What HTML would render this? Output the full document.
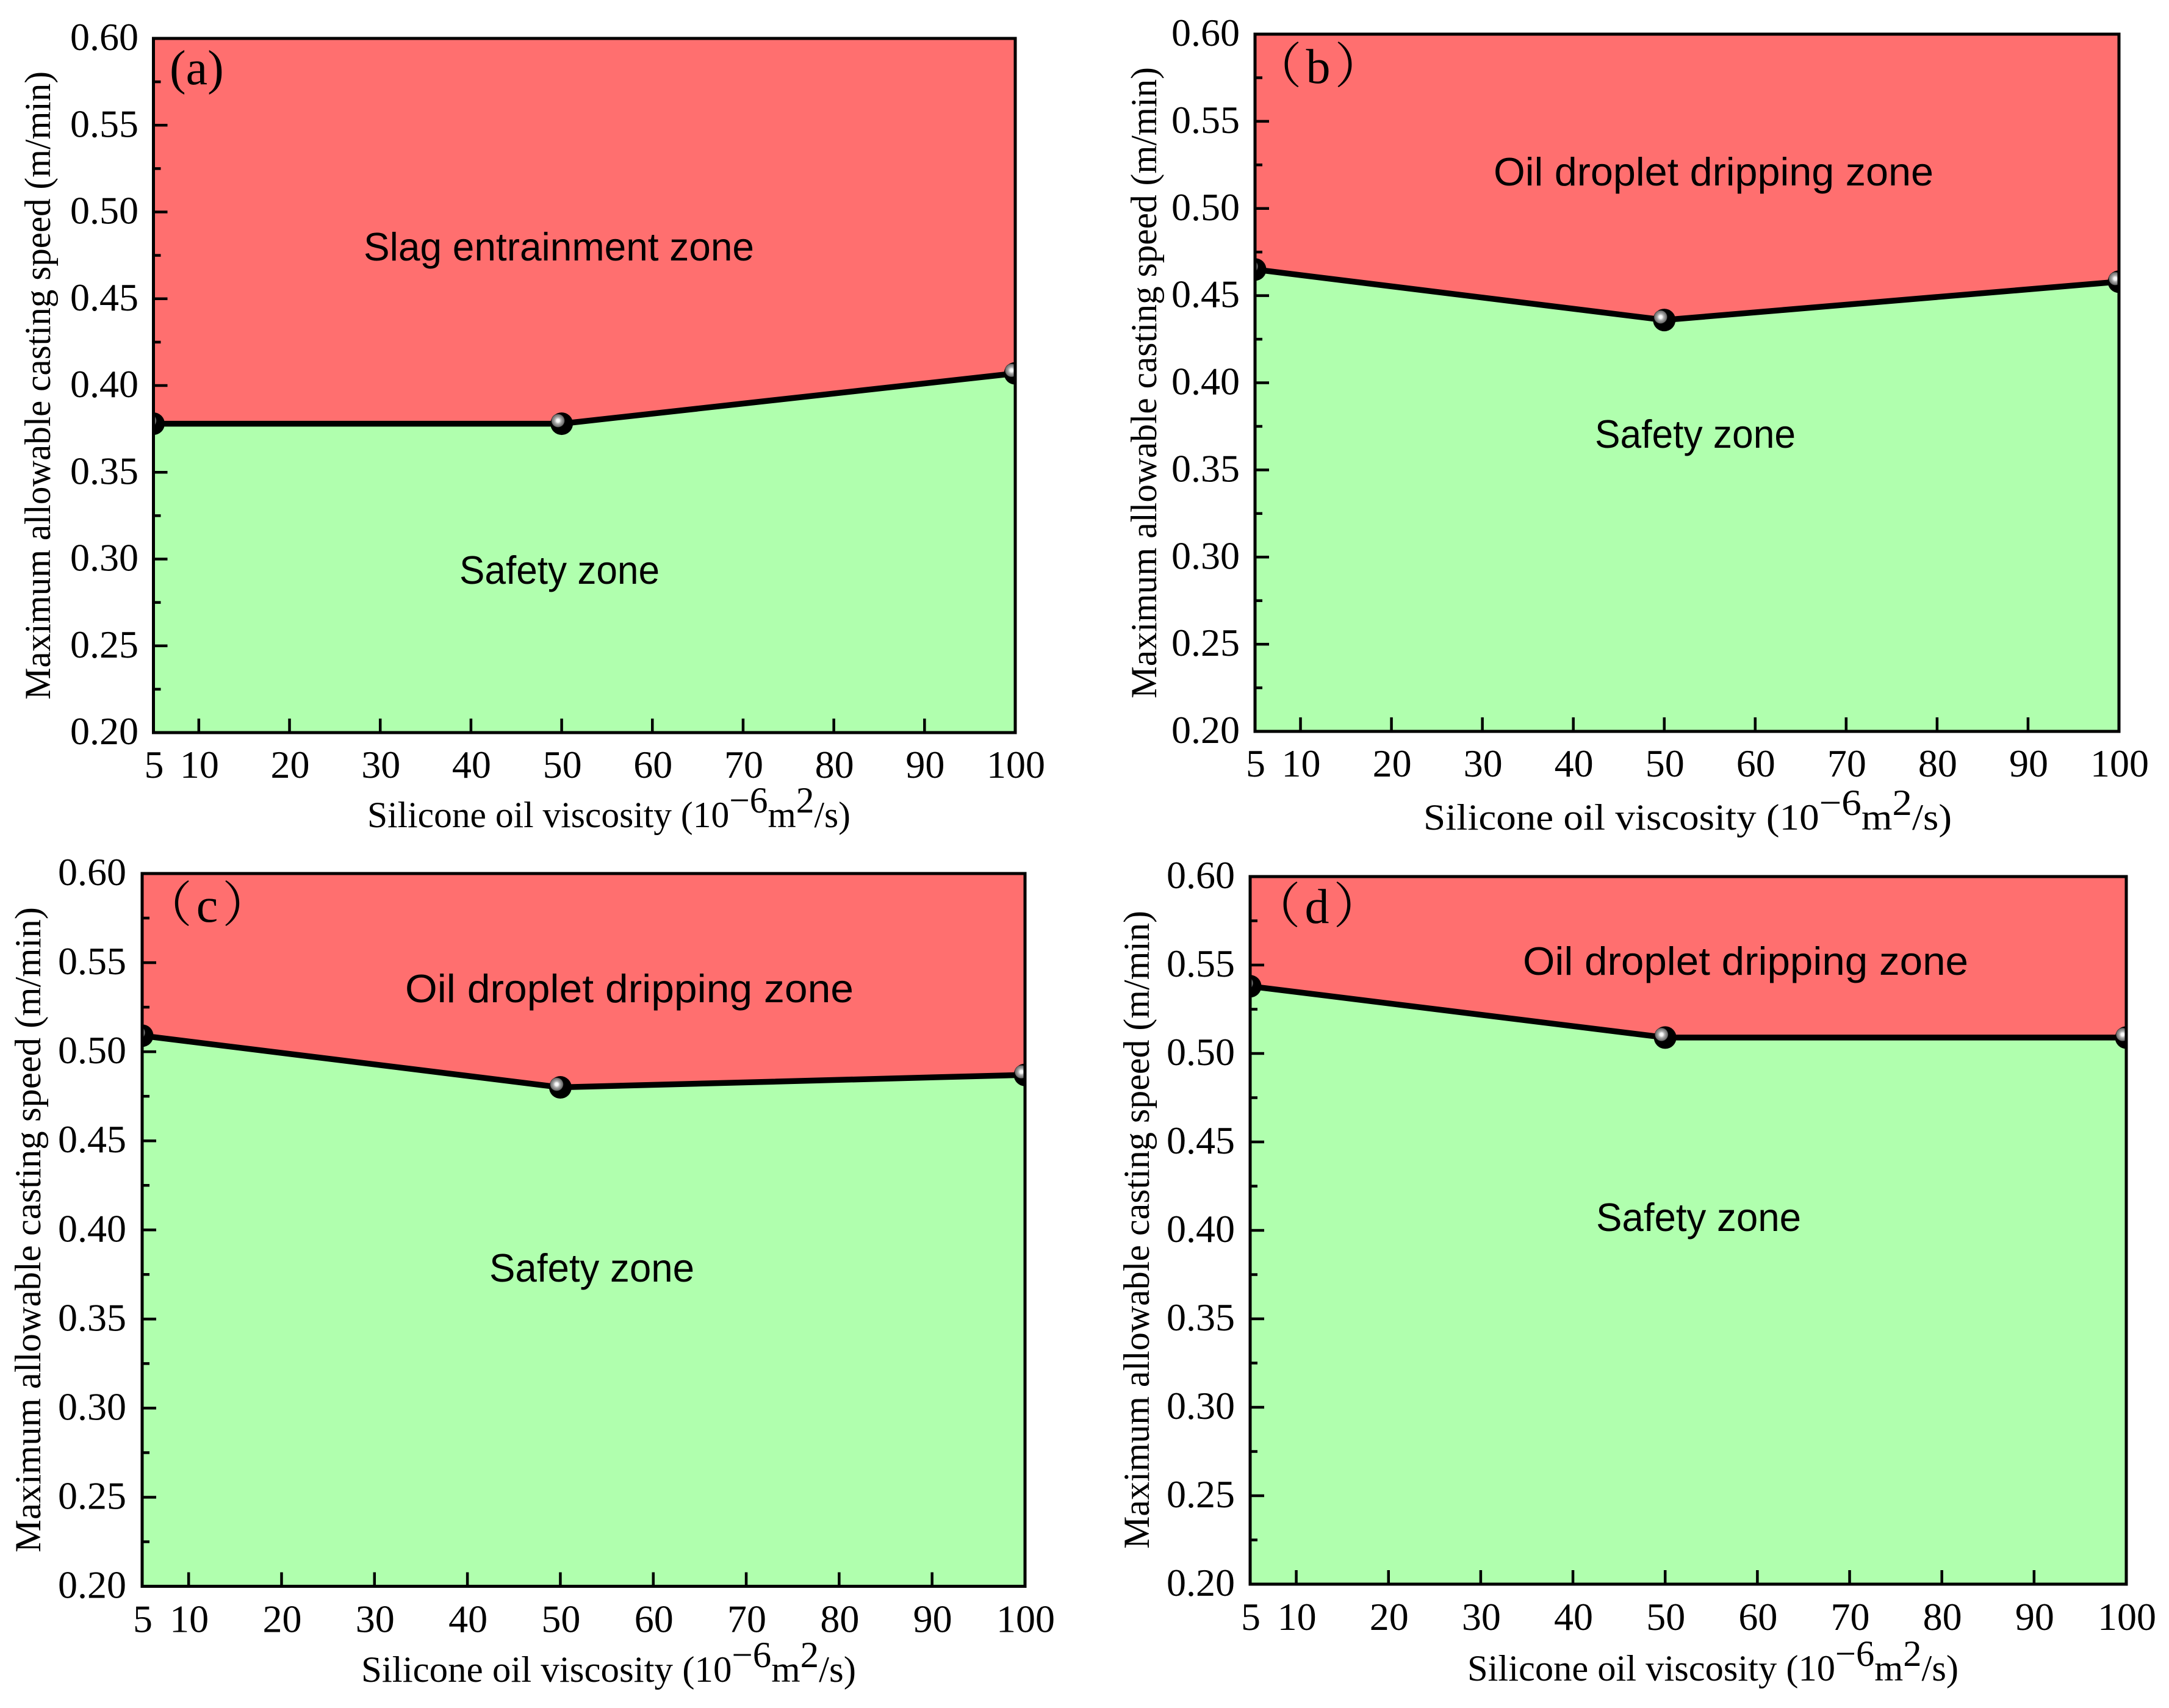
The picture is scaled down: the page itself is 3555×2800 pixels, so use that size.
<!DOCTYPE html>
<html lang="en">
<head>
<meta charset="utf-8">
<title>Maximum allowable casting speed versus silicone oil viscosity</title>
<style>
html,body{margin:0;padding:0;background:#fff;width:3555px;height:2800px;overflow:hidden}
svg{display:block}
text{fill:#000}
.tick{font-family:"Liberation Serif",serif;font-size:64px}
.title{font-family:"Liberation Serif",serif;font-size:60px}
.zone{font-family:"Liberation Sans",sans-serif;font-size:65px}
.tag{font-family:"Liberation Serif","Noto Serif CJK SC",serif;font-size:80px}
.tag-wide{letter-spacing:7px}
</style>
</head>
<body>
<svg id="figure" xmlns="http://www.w3.org/2000/svg" width="3555" height="2800" viewBox="0 0 3555 2800">
<defs>
<radialGradient id="sphere" cx="0.5" cy="0.5" r="0.5">
<stop offset="0" stop-color="#ffffff"/>
<stop offset="0.25" stop-color="#f2f2f2"/>
<stop offset="0.45" stop-color="#b4b4b4"/>
<stop offset="0.7" stop-color="#8a8a8a"/>
<stop offset="0.9" stop-color="#707070"/>
<stop offset="1" stop-color="#202020"/>
</radialGradient>
</defs>
</svg>
<script>
// ---- chart data ----
const viscosity = [5, 50, 100];
const speedA = [0.378, 0.378, 0.407];
const speedB = [0.465, 0.436, 0.458];
const speedC = [0.509, 0.480, 0.487];
const speedD = [0.538, 0.509, 0.509];
const xTickValues = [5, 10, 20, 30, 40, 50, 60, 70, 80, 90, 100];
const xTickLabels = ['5', '10', '20', '30', '40', '50', '60', '70', '80', '90', '100'];
const yTickValues = [0.20, 0.25, 0.30, 0.35, 0.40, 0.45, 0.50, 0.55, 0.60];
const yTickLabels = ['0.20', '0.25', '0.30', '0.35', '0.40', '0.45', '0.50', '0.55', '0.60'];
const yMinorValues = [0.225, 0.275, 0.325, 0.375, 0.425, 0.475, 0.525, 0.575];
const yTitle = 'Maximum allowable casting speed (m/min)';
const xMin = 5, xMax = 100, yMin = 0.20, yMax = 0.60;

// ---- panel layout ----
const panels = [
  {id:'a', tag:'(a)', tagX:278, tagY:138, tagAnchor:'start', tagClass:'tag', values:speedA,
   left:251.5, right:1664, top:63, bottom:1201, tickR:225, xLab:74,
   yT:{x:82, y0:1147, y1:117},
   xT:{x0:602, x1:1394, y:1356},
   upper:{t:'Slag entrainment zone', x0:596, x1:1236, y:427},
   lower:{t:'Safety zone', x0:753, x1:1081, y:957}},
  {id:'b', tag:'（b）', tagX:2164, tagY:136, tagAnchor:'middle', tagClass:'tag tag-wide', values:speedB,
   left:2057, right:3473, top:56, bottom:1199, tickR:2030, xLab:74,
   yT:{x:1895, y0:1145, y1:110},
   xT:{x0:2333, x1:3199, y:1360},
   upper:{t:'Oil droplet dripping zone', x0:2448, x1:3169, y:304},
   lower:{t:'Safety zone', x0:2614, x1:2943, y:734}},
  {id:'c', tag:'（c）', tagX:343, tagY:1511, tagAnchor:'middle', tagClass:'tag tag-wide', values:speedC,
   left:233, right:1680, top:1432, bottom:2600.5, tickR:205, xLab:75,
   yT:{x:66, y0:2545, y1:1487},
   xT:{x0:592, x1:1403, y:2757},
   upper:{t:'Oil droplet dripping zone', x0:664, x1:1399, y:1643},
   lower:{t:'Safety zone', x0:802, x1:1138, y:2101}},
  {id:'d', tag:'（d）', tagX:2162, tagY:1513, tagAnchor:'middle', tagClass:'tag tag-wide', values:speedD,
   left:2049, right:3485, top:1437, bottom:2597, tickR:2022, xLab:75,
   yT:{x:1883, y0:2539, y1:1493},
   xT:{x0:2405, x1:3210, y:2755},
   upper:{t:'Oil droplet dripping zone', x0:2496, x1:3226, y:1598},
   lower:{t:'Safety zone', x0:2616, x1:2952, y:2018}}
];

const NS = 'http://www.w3.org/2000/svg';
const root = document.getElementById('figure');
function make(parent, tag, attrs, content) {
  const node = document.createElementNS(NS, tag);
  for (const k in attrs) node.setAttribute(k, attrs[k]);
  if (content !== undefined) node.textContent = content;
  parent.appendChild(node);
  return node;
}

panels.forEach(function (p) {
  const xAxis = function (v) { return p.left + (v - xMin) / (xMax - xMin) * (p.right - p.left); };
  const yAxis = function (v) { return p.bottom - (v - yMin) / (yMax - yMin) * (p.bottom - p.top); };

  const g = make(root, 'g', {});
  
  

  const clip = make(root, 'clipPath', {id: 'clip-' + p.id});
  make(clip, 'rect', {x: p.left, y: p.top, width: p.right - p.left, height: p.bottom - p.top});

  const plot = make(g, 'g', {'clip-path': 'url(#clip-' + p.id + ')'});
  
  

  const linePts = viscosity.map(function (x, i) { return xAxis(x) + ',' + yAxis(p.values[i]); });

  const redZone = make(plot, 'polygon', {
    points: p.left + ',' + p.top + ' ' + linePts.join(' ') + ' ' + p.right + ',' + p.top,
    fill: '#FF6F6F'
  });
  
  

  const greenZone = make(plot, 'polygon', {
    points: p.left + ',' + p.bottom + ' ' + linePts.join(' ') + ' ' + p.right + ',' + p.bottom,
    fill: '#B0FFAE'
  });
  
  

  const boundary = make(plot, 'polyline', {
    points: linePts.join(' '), fill: 'none', stroke: '#000', 'stroke-width': 9.5
  });
  
  

  viscosity.forEach(function (x, i) {
    const cx = xAxis(x), cy = yAxis(p.values[i]);
    const point = make(plot, 'g', {});
    
    
    make(point, 'circle', {cx: cx, cy: cy, r: 18.5, fill: '#000'});
    make(point, 'circle', {cx: cx - 6, cy: cy - 5, r: 11, fill: 'url(#sphere)'});
  });

  // zone labels
  const upperLabel = make(g, 'text', {
    class: 'zone', x: p.upper.x0, y: p.upper.y,
    textLength: p.upper.x1 - p.upper.x0, lengthAdjust: 'spacingAndGlyphs'
  }, p.upper.t);
  
  

  const lowerLabel = make(g, 'text', {
    class: 'zone', x: p.lower.x0, y: p.lower.y,
    textLength: p.lower.x1 - p.lower.x0, lengthAdjust: 'spacingAndGlyphs'
  }, p.lower.t);
  
  

  // panel tag
  const tagLabel = make(g, 'text', {class: p.tagClass, x: p.tagX, y: p.tagY, 'text-anchor': p.tagAnchor}, p.tag);
  
  

  // y ticks
  yTickValues.forEach(function (v, i) {
    const y = yAxis(v);
    if (i > 0 && i < yTickValues.length - 1) {
      const tick = make(g, 'line', {x1: p.left, x2: p.left + 23, y1: y, y2: y, stroke: '#000', 'stroke-width': 4.5});
      
      
    }
    const label = make(g, 'text', {class: 'tick', x: p.tickR + 2, y: y + 19, 'text-anchor': 'end'}, yTickLabels[i]);
    
    
  });
  yMinorValues.forEach(function (v) {
    const y = yAxis(v);
    const tick = make(g, 'line', {x1: p.left, x2: p.left + 12, y1: y, y2: y, stroke: '#000', 'stroke-width': 4.5});
    
    
  });

  // x ticks
  xTickValues.forEach(function (v, i) {
    const x = xAxis(v);
    if (v !== xMin && v !== xMax) {
      const tick = make(g, 'line', {x1: x, x2: x, y1: p.bottom, y2: p.bottom - 23, stroke: '#000', 'stroke-width': 4.5});
      
      
    }
    const label = make(g, 'text', {class: 'tick', x: x + 1, y: p.bottom + p.xLab, 'text-anchor': 'middle'}, xTickLabels[i]);
    
    
  });

  // frame on top of plot
  const frame = make(g, 'rect', {
    x: p.left, y: p.top, width: p.right - p.left, height: p.bottom - p.top,
    fill: 'none', stroke: '#000', 'stroke-width': 5
  });
  
  

  // y-axis title
  const yLen = p.yT.y0 - p.yT.y1;
  const yAxisTitle = make(g, 'text', {
    class: 'title',
    transform: 'translate(' + p.yT.x + ',' + p.yT.y0 + ') rotate(-90)',
    textLength: yLen, lengthAdjust: 'spacingAndGlyphs'
  }, yTitle);
  
  

  // x-axis title
  const xAxisTitle = make(g, 'text', {
    class: 'title', x: p.xT.x0, y: p.xT.y,
    textLength: p.xT.x1 - p.xT.x0, lengthAdjust: 'spacingAndGlyphs'
  });
  
  
  make(xAxisTitle, 'tspan', {}, 'Silicone oil viscosity (10');
  make(xAxisTitle, 'tspan', {dy: -24}, '\u22126');
  make(xAxisTitle, 'tspan', {dy: 24}, 'm');
  make(xAxisTitle, 'tspan', {dy: -24}, '2');
  make(xAxisTitle, 'tspan', {dy: 24}, '/s)');
});
</script>
</body>
</html>
